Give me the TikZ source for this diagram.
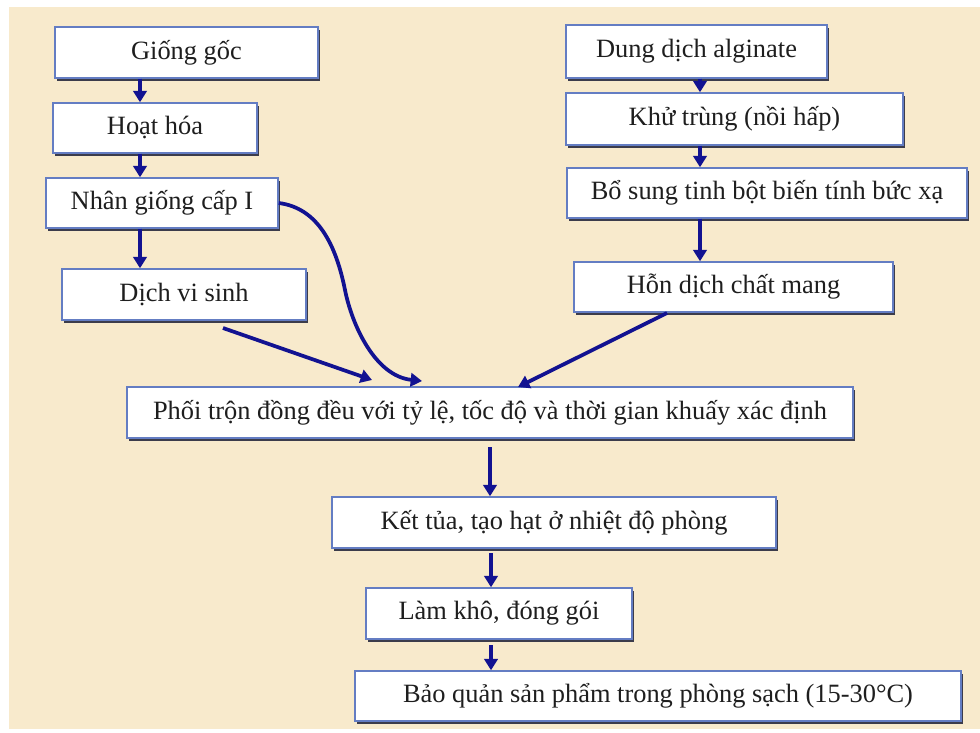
\documentclass[tikz,border=0pt]{standalone}
\usepackage{fontspec}
\setmainfont{Liberation Serif}
\usetikzlibrary{arrows.meta,shadows}
\definecolor{bg}{RGB}{248,234,204}
\definecolor{boxline}{RGB}{100,125,195}
\definecolor{arr}{RGB}{18,18,145}
\definecolor{shade}{RGB}{60,60,75}
\definecolor{txt}{RGB}{30,30,30}
\begin{document}
\begin{tikzpicture}[x=0.75pt,y=-0.75pt,
  stepbox/.style={draw=boxline, line width=1.1pt, fill=white, inner sep=0pt,
    font=\fontsize{19.8}{23}\selectfont, text=txt,
    general shadow={fill=shade, shadow xshift=1.5pt, shadow yshift=-2pt}},
  wh/.style 2 args={minimum width={#1*0.75pt}, minimum height={#2*0.75pt}},
  flow/.style={draw=arr, line width=2.8pt, -{Triangle[length=8.5pt,width=10pt]}}]
\useasboundingbox (0,0) rectangle (980,732);
\fill[white] (0,0) rectangle (980,732);
\fill[bg] (9,7) rectangle (980,729);

% left column
\node[stepbox, wh={263}{51}] (g1) at (186.5,52.5) {Giống gốc};
\node[stepbox, wh={204}{50}] (g2) at (155,128) {Hoạt hóa};
\node[stepbox, wh={232}{50}] (g3) at (162,203) {Nhân giống cấp I};
\node[stepbox, wh={244}{51}] (g4) at (184,294.5) {Dịch vi sinh};
% right column
\node[stepbox, wh={261}{53}] (a1) at (696.5,51.5) {Dung dịch alginate};
\node[stepbox, wh={337}{52}] (a2) at (734.5,119) {Khử trùng (nồi hấp)};
\node[stepbox, wh={400}{50}] (a3) at (767,193) {Bổ sung tinh bột biến tính bức xạ};
\node[stepbox, wh={319}{50}] (a4) at (733.5,287) {Hỗn dịch chất mang};
% center
\node[stepbox, wh={726}{51}] (mix) at (490,412.5) {Phối trộn đồng đều với tỷ lệ, tốc độ và thời gian khuấy xác định};
\node[stepbox, wh={444}{51}] (k) at (554,522.5) {Kết tủa, tạo hạt ở nhiệt độ phòng};
\node[stepbox, wh={266}{51}] (l) at (499,613.5) {Làm khô, đóng gói};
\node[stepbox, wh={606}{50}] (b) at (658,696) {Bảo quản sản phẩm trong phòng sạch (15-30°C)};

% helper coordinates
\coordinate (xL) at (140,0);
\coordinate (xR) at (700,0);
\coordinate (xC) at (490,0);
\coordinate (s1) at (223,328);
\coordinate (e1) at (372,380);
\coordinate (e2) at (422,381);
\coordinate (s3) at (667,313);
\coordinate (e3) at (518,387);
\coordinate (s4) at (490,447);
\coordinate (s5) at (491,553);
\coordinate (s6) at (491,645);
\coordinate (xC2) at (491,0);

\draw[flow] (g1.south -| xL) -- (g2.north -| xL);
\draw[flow] (g2.south -| xL) -- (g3.north -| xL);
\draw[flow] (g3.south -| xL) -- (g4.north -| xL);
\draw[flow] (a1.south -| xR) -- (a2.north -| xR);
\draw[flow] (a2.south -| xR) -- (a3.north -| xR);
\draw[flow] (a3.south -| xR) -- (a4.north -| xR);

\draw[flow] (s1) -- (e1);
\draw[flow] (g3.east) .. controls (318,208) and (336,245) .. (345,290)
                      .. controls (352,325) and (375,376) .. (e2);
\draw[flow] (s3) -- (e3);

\draw[flow] (s4) -- (k.north -| xC);
\draw[flow] (s5) -- (l.north -| xC2);
\draw[flow] (s6) -- (b.north -| xC2);
\end{tikzpicture}
\end{document}
